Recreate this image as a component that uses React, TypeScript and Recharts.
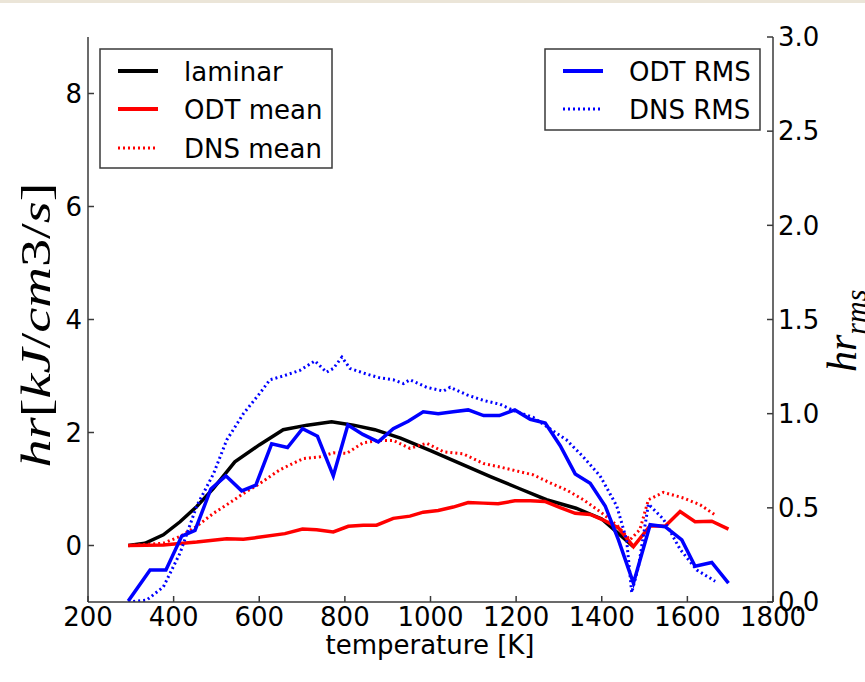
import React from 'react';
import { ComposedChart, Line, XAxis, YAxis } from 'recharts';

// temperature [K] and heat release for each series
const laminarT = [294, 333, 376, 415, 454, 493, 543, 600, 656, 712, 769, 820, 870, 930, 1000, 1070, 1140, 1210, 1271, 1340, 1400, 1474];
const laminarHr = [0, 0.04, 0.19, 0.42, 0.69, 1.01, 1.48, 1.78, 2.05, 2.13, 2.19, 2.13, 2.05, 1.9, 1.68, 1.45, 1.22, 1.0, 0.81, 0.66, 0.47, -0.02];

const odtMeanT = [294, 376, 454, 524, 563, 594, 660, 701, 734, 773, 808, 843, 874, 913, 952, 983, 1018, 1053, 1088, 1123, 1158, 1197, 1233, 1267, 1303, 1338, 1373, 1404, 1439, 1474, 1513, 1548, 1583, 1618, 1657, 1696];
const odtMeanHr = [0, 0.01, 0.06, 0.12, 0.11, 0.14, 0.21, 0.29, 0.28, 0.24, 0.34, 0.36, 0.36, 0.48, 0.52, 0.59, 0.62, 0.68, 0.76, 0.75, 0.74, 0.79, 0.79, 0.78, 0.67, 0.57, 0.55, 0.45, 0.31, -0.02, 0.35, 0.34, 0.6, 0.42, 0.43, 0.29];

const dnsMeanT = [294, 337, 376, 415, 454, 493, 524, 563, 602, 648, 703, 742, 773, 804, 843, 882, 913, 952, 991, 1030, 1077, 1124, 1162, 1201, 1240, 1279, 1318, 1357, 1396, 1435, 1466, 1489, 1509, 1544, 1591, 1630, 1665];
const dnsMeanHr = [0, 0.02, 0.04, 0.16, 0.34, 0.57, 0.72, 0.92, 1.1, 1.34, 1.54, 1.57, 1.64, 1.63, 1.82, 1.86, 1.86, 1.72, 1.81, 1.66, 1.62, 1.45, 1.39, 1.32, 1.25, 1.11, 0.98, 0.81, 0.6, 0.36, 0.1, 0.28, 0.81, 0.94, 0.84, 0.72, 0.54];

const odtRmsT = [294, 345, 382, 419, 450, 487, 522, 559, 592, 629, 666, 701, 736, 773, 807, 842, 878, 913, 948, 983, 1018, 1053, 1088, 1124, 1161, 1197, 1233, 1268, 1303, 1338, 1373, 1408, 1439, 1474, 1513, 1548, 1587, 1618, 1657, 1696];
const odtRmsHr = [0.005, 0.17, 0.17, 0.35, 0.38, 0.6, 0.67, 0.59, 0.62, 0.84, 0.82, 0.92, 0.88, 0.67, 0.94, 0.89, 0.85, 0.92, 0.96, 1.01, 1.0, 1.01, 1.02, 0.99, 0.99, 1.02, 0.97, 0.95, 0.83, 0.68, 0.63, 0.51, 0.33, 0.1, 0.41, 0.4, 0.33, 0.19, 0.21, 0.1];

const dnsRmsT = [294, 337, 376, 415, 454, 493, 524, 563, 602, 625, 656, 695, 730, 757, 773, 793, 812, 851, 882, 913, 937, 952, 991, 1030, 1046, 1085, 1124, 1162, 1201, 1240, 1279, 1318, 1357, 1396, 1435, 1458, 1470, 1486, 1509, 1544, 1583, 1622, 1665];
const dnsRmsHr = [0, 0.01, 0.08, 0.26, 0.51, 0.68, 0.86, 1.0, 1.11, 1.18, 1.2, 1.23, 1.28, 1.22, 1.24, 1.3, 1.24, 1.21, 1.19, 1.18, 1.16, 1.18, 1.14, 1.12, 1.14, 1.1, 1.07, 1.05, 1.01, 0.98, 0.92, 0.86, 0.77, 0.67, 0.51, 0.33, 0.05, 0.19, 0.52, 0.44, 0.28, 0.17, 0.11];

const xTicks = [200, 400, 600, 800, 1000, 1200, 1400, 1600, 1800];
const leftTicks = [0, 2, 4, 6, 8];
const rightTicks = [0, 0.5, 1.0, 1.5, 2.0, 2.5, 3.0];

const toPoints = (t: number[], v: number[]) => t.map((T, i) => ({ T, v: v[i] }));

const laminar = toPoints(laminarT, laminarHr);
const odtMean = toPoints(odtMeanT, odtMeanHr);
const dnsMean = toPoints(dnsMeanT, dnsMeanHr);
const odtRms = toPoints(odtRmsT, odtRmsHr);
const dnsRms = toPoints(dnsRmsT, dnsRmsHr);

const FONT = '"DejaVu Sans", sans-serif';
const tickStyle = { fill: '#000', fontSize: 26, fontFamily: FONT };
const frame = '#3a3a3a';
const dotted = '2 3';

const LegendRow = ({ y, x0, color, dash, label }: { y: number; x0: number; color: string; dash?: string; label: string }) => (
  <g>
    <line x1={x0} x2={x0 + 40} y1={y} y2={y} stroke={color} strokeWidth={dash ? 3 : 4} strokeDasharray={dash} />
    <text x={x0 + 66} y={y + 9.5} fontSize={26} fontFamily={FONT} fill="#000">{label}</text>
  </g>
);

const App: React.FC = () => {
  return (
    <div style={{ position: 'absolute', left: 0, top: 0, width: 865, height: 682, background: '#fff' }}>
      <div style={{ position: 'absolute', left: 0, top: 0, width: 865, height: 3, background: '#ebe5d8' }} />
      <ComposedChart width={865} height={682} margin={{ top: 37, right: 0, bottom: 0, left: 0 }}>
        <XAxis
          xAxisId="bottom"
          dataKey="T"
          type="number"
          domain={[200, 1800]}
          ticks={xTicks}
          allowDataOverflow
          height={80}
          tickSize={-6}
          tickMargin={12}
          stroke={frame}
          strokeWidth={1.5}
          tick={tickStyle}
        />
        <XAxis
          xAxisId="top"
          orientation="top"
          dataKey="T"
          type="number"
          domain={[200, 1800]}
          ticks={xTicks}
          allowDataOverflow
          height={0}
          tickSize={-6}
          stroke={frame}
          strokeWidth={1.5}
          tickFormatter={() => ''}
        />
        <YAxis
          yAxisId="left"
          type="number"
          domain={[-1, 9]}
          ticks={leftTicks}
          allowDataOverflow
          width={88}
          tickSize={-6}
          tickMargin={12}
          stroke={frame}
          strokeWidth={1.5}
          tick={tickStyle}
        />
        <YAxis
          yAxisId="right"
          orientation="right"
          type="number"
          domain={[0, 3]}
          ticks={rightTicks}
          allowDataOverflow
          width={92}
          tickSize={-6}
          tickMargin={11}
          stroke={frame}
          strokeWidth={1.5}
          tick={tickStyle}
          tickFormatter={(v: number) => v.toFixed(1)}
        />
        <Line data={laminar} dataKey="v" xAxisId="bottom" yAxisId="left" type="linear" stroke="#000000" strokeWidth={3.5} dot={false} isAnimationActive={false} />
        <Line data={odtMean} dataKey="v" xAxisId="bottom" yAxisId="left" type="linear" stroke="#ff0000" strokeWidth={3.5} dot={false} isAnimationActive={false} />
        <Line data={dnsMean} dataKey="v" xAxisId="bottom" yAxisId="left" type="linear" stroke="#ff0000" strokeWidth={3} strokeDasharray={dotted} dot={false} isAnimationActive={false} />
        <Line data={odtRms} dataKey="v" xAxisId="bottom" yAxisId="right" type="linear" stroke="#0000ff" strokeWidth={3.5} dot={false} isAnimationActive={false} />
        <Line data={dnsRms} dataKey="v" xAxisId="bottom" yAxisId="right" type="linear" stroke="#0000ff" strokeWidth={3} strokeDasharray={dotted} dot={false} isAnimationActive={false} />
      </ComposedChart>
      <svg width={865} height={682} style={{ position: 'absolute', left: 0, top: 0, pointerEvents: 'none' }}>
        {/* left legend */}
        <rect x={100} y={49} width={232} height={119} fill="#fff" stroke={frame} strokeWidth={1.5} />
        <LegendRow y={71} x0={118} color="#000000" label="laminar" />
        <LegendRow y={109} x0={118} color="#ff0000" label="ODT mean" />
        <LegendRow y={148} x0={118} color="#ff0000" dash={dotted} label="DNS mean" />
        {/* right legend */}
        <rect x={545} y={49} width={215} height={81} fill="#fff" stroke={frame} strokeWidth={1.5} />
        <LegendRow y={71} x0={563} color="#0000ff" label="ODT RMS" />
        <LegendRow y={109} x0={563} color="#0000ff" dash={dotted} label="DNS RMS" />
        {/* axis titles */}
        <text x={430} y={654} textAnchor="middle" fontSize={26} fontFamily={FONT} fill="#000">temperature [K]</text>
        <text
          transform="rotate(-90)"
          x={-325}
          y={50}
          textAnchor="middle"
          fontSize={42}
          fontFamily='"Liberation Serif", serif'
          fill="#000"
          textLength={285}
          lengthAdjust="spacingAndGlyphs"
        >
          <tspan fontStyle="italic">hr</tspan>[<tspan fontStyle="italic">kJ</tspan>/<tspan fontStyle="italic">cm</tspan>3/<tspan fontStyle="italic">s</tspan>]
        </text>
        <text transform="rotate(-90)" x={-372} y={856} fontSize={42} fontFamily='"Liberation Serif", serif' fill="#000">
          <tspan fontStyle="italic">hr</tspan>
          <tspan fontStyle="italic" fontSize={30} dy={10}>rms</tspan>
        </text>
      </svg>
    </div>
  );
};

export default App;
